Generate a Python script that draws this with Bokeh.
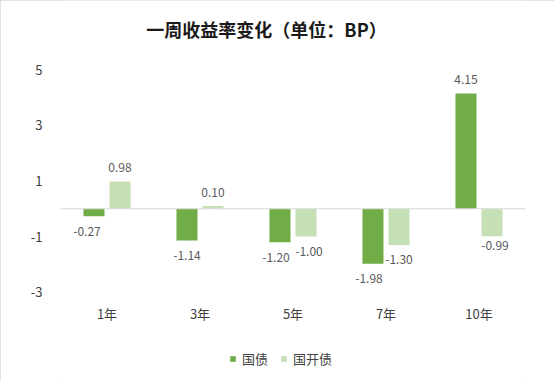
from bokeh.plotting import figure
from bokeh.models import (FactorRange, Range1d, ColumnDataSource, Span, Label,
                          Legend, LegendItem, FixedTicker)
from bokeh.transform import dodge
from bokeh.core.properties import value
from bokeh.embed import file_html
from bokeh.resources import INLINE

# ---- data ----
categories = ["1年", "3年", "5年", "7年", "10年"]
series_names = ["国债", "国开债"]
guozhai = [-0.27, -1.14, -1.20, -1.98, 4.15]
guokai = [0.98, 0.10, -1.00, -1.30, -0.99]
y_ticks = [5, 3, 1, -1, -3]
title_text = "一周收益率变化（单位：BP）"

# label nudges (style only, screen pixels)
gz_dx = [-7, 0, -4, -4, 0]
gk_dx = [0, 0, 3, 0, 3]
gk_dy = [0, 0, 0, 0, -6]

FONT = "Noto Sans CJK SC"
DARK = "#70AD47"
LIGHT = "#C5E0B4"

# ---- layout (pixels) ----
W_PX, H_PX = 554, 380
PLOT_TOP, PLOT_BOTTOM = 69.3, 291.7          # pixel rows of the axis top / bottom ticks
AX_MIN, AX_MAX = min(y_ticks), max(y_ticks)
ppu = (PLOT_BOTTOM - PLOT_TOP) / (AX_MAX - AX_MIN)
y_lo = AX_MIN - (H_PX - PLOT_BOTTOM) / ppu
y_hi = AX_MAX + PLOT_TOP / ppu
cat_label_y = AX_MIN - (313 - PLOT_BOTTOM) / ppu

p = figure(width=W_PX, height=H_PX,
           x_range=FactorRange(*categories), y_range=Range1d(y_lo, y_hi),
           output_backend="svg", toolbar_location=None, x_axis_location=None,
           min_border_left=60, min_border_right=29,
           min_border_top=0, min_border_bottom=0)
p.styles = {"outline": "1px solid #d9d9d9", "outline-offset": "-1px"}
p.outline_line_color = None
p.xgrid.visible = False
p.ygrid.visible = False

p.yaxis.ticker = FixedTicker(ticks=y_ticks)
p.yaxis.major_label_overrides = {t: str(t) for t in y_ticks}
ax = p.yaxis[0]
ax.axis_line_color = None
ax.major_tick_line_color = None
ax.minor_tick_line_color = None
ax.major_label_text_font = FONT
ax.major_label_text_font_size = "13px"
ax.major_label_text_color = "#404040"
ax.major_label_standoff = 12

p.add_layout(Span(location=0, dimension="width", line_color="#d9d9d9", line_width=1))

def fmt(vals):
    return [f"{v:.2f}" for v in vals]

def offs(vals, extra):
    return [(-14 if v >= 0 else 15) + e for v, e in zip(vals, extra)]

src = ColumnDataSource(dict(cat=categories, gz=guozhai, gk=guokai,
                            gz_lbl=fmt(guozhai), gk_lbl=fmt(guokai),
                            gz_off=offs(guozhai, [0] * 5), gk_off=offs(guokai, gk_dy),
                            gz_dx=gz_dx, gk_dx=gk_dx,
                            cy=[cat_label_y] * len(categories)))

W = 0.226
r1 = p.vbar(x=dodge("cat", -0.14, range=p.x_range), top="gz", bottom=0, width=W,
            fill_color=DARK, line_color=None, source=src)
r2 = p.vbar(x=dodge("cat", 0.14, range=p.x_range), top="gk", bottom=0, width=W,
            fill_color=LIGHT, line_color=None, source=src)

for col, lbl, off, dxc, dx in (("gz", "gz_lbl", "gz_off", "gz_dx", -0.14),
                               ("gk", "gk_lbl", "gk_off", "gk_dx", 0.14)):
    p.text(x=dodge("cat", dx, range=p.x_range), y=col, text=lbl,
           x_offset=dxc, y_offset=off,
           text_align="center", text_baseline="middle",
           text_font=value(FONT), text_font_size="12px", text_color="#595959",
           source=src)

# category axis labels
p.text(x="cat", y="cy", text="cat", text_align="center", text_baseline="middle",
       text_font=value(FONT), text_font_size="13px", text_color="#404040", source=src)

legend = Legend(items=[LegendItem(label=series_names[0], renderers=[r1]),
                       LegendItem(label=series_names[1], renderers=[r2])],
                orientation="horizontal", location=(169, 12),
                glyph_width=7, glyph_height=7, label_height=14,
                label_standoff=6, spacing=12,
                padding=0, margin=0, border_line_color=None,
                background_fill_alpha=0,
                label_text_font=FONT, label_text_font_size="13px",
                label_text_color="#404040")
p.add_layout(legend)

p.add_layout(Label(x=206, y=H_PX - 28.5, x_units="screen", y_units="screen",
                   text=title_text, text_font=FONT, text_font_size="18px",
                   text_font_style="bold", text_color="#1a1a1a",
                   text_align="center", text_baseline="middle"))

open("out.html", "w").write(file_html(p, INLINE))
